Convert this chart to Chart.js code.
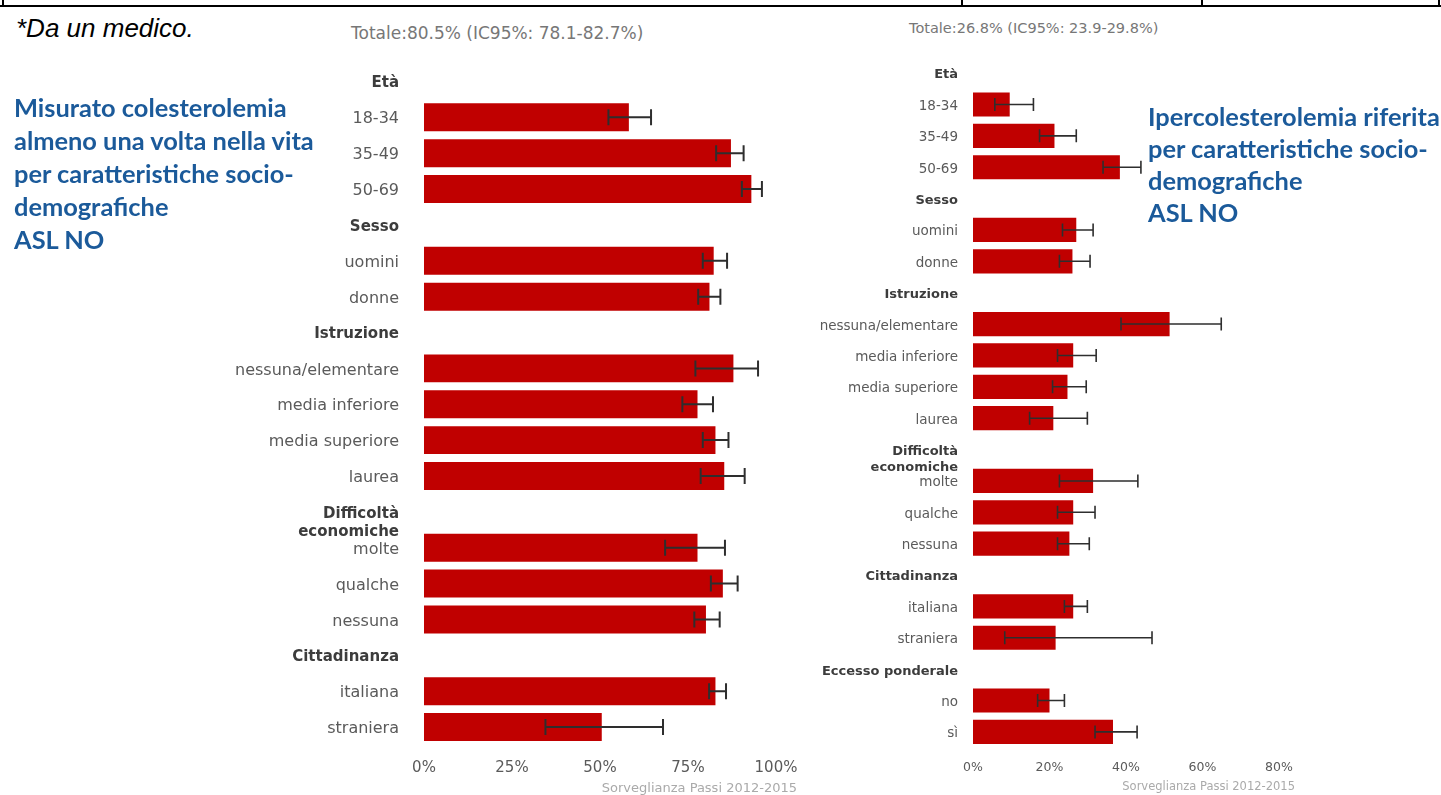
<!DOCTYPE html>
<html lang="it">
<head>
<meta charset="utf-8">
<title>Colesterolemia - ASL NO</title>
<script src="https://cdn.jsdelivr.net/npm/chart.js@4.4.1/dist/chart.umd.min.js"></script>
<style>
  body { margin: 0; width: 1441px; height: 795px; background: #fff; position: relative; overflow: hidden; }
  canvas { position: absolute; top: 0; }
  #graficoMisurato { left: 200px; }
  #graficoRiferita { left: 780px; }
  .linea { position: absolute; background: #000; }
  .testo { position: absolute; white-space: nowrap; }
  #nota { left: 16px; top: 13px; font: italic 26px/30px "Liberation Sans", Arial, sans-serif; color: #000; }
  .totale { font-family: "DejaVu Sans", sans-serif; color: #777; }
  #totMisurato { left: 351px; top: 23px; font-size: 17px; line-height: 20px; }
  #totRiferita { left: 909px; top: 18px; font-size: 14.5px; line-height: 20px; }
  .blu { font: bold 25.4px Lato, "Open Sans", sans-serif; color: #1b5a9a; }
  #bluMisurato { left: 14px; top: 91px; line-height: 33px; }
  #bluRiferita { left: 1148px; top: 100px; line-height: 32px; }
  .fonte { font-family: "DejaVu Sans", sans-serif; color: #aaa; text-align: right; }
  #fonteMisurato { right: 644px; top: 780px; font-size: 13px; line-height: 16px; }
  #fonteRiferita { right: 146px; top: 778px; font-size: 11.5px; line-height: 16px; }
</style>
</head>
<body>

<div class="linea" style="left:0; top:5px; width:1441px; height:2px"></div>
<div class="linea" style="left:2px; top:0; width:2px; height:6px"></div>
<div class="linea" style="left:961px; top:0; width:2px; height:6px"></div>
<div class="linea" style="left:1201px; top:0; width:2px; height:6px"></div>
<div class="linea" style="left:1438px; top:0; width:2px; height:6px"></div>

<div id="nota" class="testo">*Da un medico.</div>
<div id="totMisurato" class="testo totale">Totale:80.5% (IC95%: 78.1-82.7%)</div>
<div id="totRiferita" class="testo totale">Totale:26.8% (IC95%: 23.9-29.8%)</div>

<canvas id="graficoMisurato" width="620" height="795"></canvas>
<canvas id="graficoRiferita" width="550" height="795"></canvas>

<div id="bluMisurato" class="testo blu">Misurato colesterolemia<br>almeno una volta nella vita<br>per caratteristiche socio-<br>demografiche<br>ASL NO</div>
<div id="bluRiferita" class="testo blu">Ipercolesterolemia riferita<br>per caratteristiche socio-<br>demografiche<br>ASL NO</div>

<div id="fonteMisurato" class="testo fonte">Sorveglianza Passi 2012-2015</div>
<div id="fonteRiferita" class="testo fonte">Sorveglianza Passi 2012-2015</div>

<script>
// colesterolemia misurata almeno una volta (%), righe con null = intestazione di gruppo
const etichetteMisurato = ['Età', '18-34', '35-49', '50-69', 'Sesso', 'uomini', 'donne',
  'Istruzione', 'nessuna/elementare', 'media inferiore', 'media superiore', 'laurea',
  ['Difficoltà', 'economiche'], 'molte', 'qualche', 'nessuna',
  'Cittadinanza', 'italiana', 'straniera']
const valoriMisurato = [null, 58.2, 87.2, 93.0, null, 82.3, 81.1,
  null, 87.9, 77.7, 82.8, 85.3,
  null, 77.7, 84.9, 80.1,
  null, 82.8, 50.5]
const infMisurato = [null, 52.4, 83.0, 90.3, null, 79.2, 77.9,
  null, 77.1, 73.4, 79.2, 78.6,
  null, 68.5, 81.5, 76.8,
  null, 81.0, 34.5]
const supMisurato = [null, 64.5, 90.8, 96.0, null, 86.1, 84.2,
  null, 94.9, 82.1, 86.5, 91.1,
  null, 85.5, 89.1, 84.0,
  null, 85.8, 67.9]
const taccheMisurato = [0, 25, 50, 75, 100]

// ipercolesterolemia riferita (%)
const etichetteRiferita = ['Età', '18-34', '35-49', '50-69', 'Sesso', 'uomini', 'donne',
  'Istruzione', 'nessuna/elementare', 'media inferiore', 'media superiore', 'laurea',
  ['Difficoltà', 'economiche'], 'molte', 'qualche', 'nessuna',
  'Cittadinanza', 'italiana', 'straniera', 'Eccesso ponderale', 'no', 'sì']
const valoriRiferita = [null, 9.6, 21.3, 38.4, null, 27.0, 26.0,
  null, 51.4, 26.2, 24.7, 21.0,
  null, 31.4, 26.2, 25.2,
  null, 26.2, 21.6, null, 20.0, 36.6]
const infRiferita = [null, 5.7, 17.4, 34.0, null, 23.4, 22.6,
  null, 38.7, 22.1, 20.8, 14.8,
  null, 22.6, 22.1, 22.1,
  null, 23.9, 8.3, null, 16.9, 31.9]
const supRiferita = [null, 15.8, 27.0, 43.9, null, 31.4, 30.6,
  null, 64.9, 32.2, 29.6, 29.9,
  null, 43.1, 31.9, 30.4,
  null, 29.9, 46.8, null, 23.9, 42.9]
const taccheRiferita = [0, 20, 40, 60, 80]

function creaGrafico(id, etichette, valori, inf, sup, tacche, st) {
  const ctx = document.getElementById(id).getContext('2d')

  // barre di errore (IC95%) e nomi delle categorie a sinistra
  const etichetteIC = {
    id: 'etichetteIC',
    afterDatasetsDraw(chart) {
      const c = chart.ctx
      const x = chart.scales.x
      const y = chart.scales.y
      c.save()
      c.strokeStyle = '#2e2e2e'
      c.lineWidth = st.linea
      valori.forEach((v, i) => {
        if (v == null) return
        const py = y.getPixelForValue(i)
        const a = x.getPixelForValue(inf[i])
        const b = x.getPixelForValue(sup[i])
        c.beginPath()
        c.moveTo(a, py); c.lineTo(b, py)
        c.moveTo(a, py - st.cap); c.lineTo(a, py + st.cap)
        c.moveTo(b, py - st.cap); c.lineTo(b, py + st.cap)
        c.stroke()
      })

      c.textAlign = 'right'
      c.textBaseline = 'middle'
      etichette.forEach((e, i) => {
        const gruppo = valori[i] == null
        c.font = gruppo ? 'bold ' + st.fontGruppo + 'px "DejaVu Sans"' : st.font + 'px "DejaVu Sans"'
        c.fillStyle = gruppo ? '#3c3c3c' : '#5a5a5a'
        const righe = Array.isArray(e) ? e : [e]
        righe.forEach((r, k) => {
          c.fillText(r, chart.chartArea.left - st.gap, y.getPixelForValue(i) + 2 + k * st.interlinea)
        })
      })
      c.restore()
    }
  }

  return new Chart(ctx, {
    type: 'bar',
    data: {
      labels: etichette,
      datasets: [{
        data: valori,
        backgroundColor: '#c00000',
        borderWidth: 0,
        barPercentage: st.barra,
        categoryPercentage: 1
      }]
    },
    options: {
      indexAxis: 'y',
      responsive: false,
      animation: false,
      layout: { padding: st.padding },
      plugins: {
        legend: { display: false },
        tooltip: { enabled: false }
      },
      scales: {
        y: { display: false },
        x: {
          min: tacche[0],
          max: tacche[tacche.length - 1],
          afterBuildTicks: s => { s.ticks = tacche.map(v => ({ value: v })) },
          grid: { display: false, drawTicks: false },
          border: { display: false },
          ticks: {
            padding: st.tickPad,
            color: '#5a5a5a',
            font: { family: 'DejaVu Sans', size: st.tickFont },
            callback: v => v + '%'
          }
        }
      }
    },
    plugins: [etichetteIC]
  })
}

creaGrafico('graficoMisurato', etichetteMisurato, valoriMisurato, infMisurato, supMisurato, taccheMisurato, {
  padding: { left: 224, right: 44, top: 63.5, bottom: 3 },
  barra: 0.78, linea: 2, cap: 8,
  font: 16, fontGruppo: 15, interlinea: 18, gap: 25,
  tickFont: 15, tickPad: 14.5
})

creaGrafico('graficoRiferita', etichetteRiferita, valoriRiferita, infRiferita, supRiferita, taccheRiferita, {
  padding: { left: 193, right: 51, top: 57.4, bottom: 8 },
  barra: 0.77, linea: 1.6, cap: 6.5,
  font: 13.5, fontGruppo: 13, interlinea: 16.5, gap: 15,
  tickFont: 12.5, tickPad: 12.2
})
</script>
</body>
</html>
